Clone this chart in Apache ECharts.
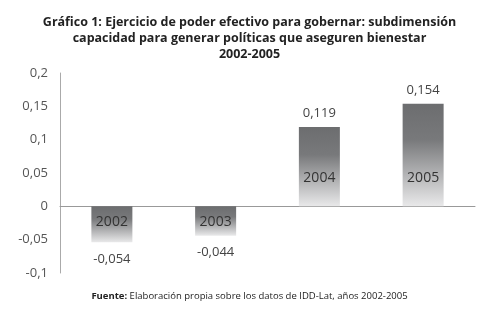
<!DOCTYPE html>
<html>
<head>
<meta charset="utf-8">
<script src="https://cdn.jsdelivr.net/npm/echarts@6/dist/echarts.min.js"></script>
<style>
  html, body { margin: 0; padding: 0; background: #fff; }
  #chart { width: 499px; height: 322px; }
</style>
</head>
<body>
<div id="chart"></div>
<script>
var years = ["2002", "2003", "2004", "2005"];
var values = [-0.054, -0.044, 0.119, 0.154];
var titleLines = [
    "Gráfico 1: Ejercicio de poder efectivo para gobernar: subdimensión",
    "capacidad para generar políticas que aseguren bienestar",
    "2002-2005"
];
var sourceLabel = "Fuente:";
var sourceText = " Elaboración propia sobre los datos de IDD-Lat, años 2002-2005";

function comma(v){
    return String(v).replace(".", ",");
}

var barFill = new echarts.graphic.LinearGradient(0, 0, 0, 1, [
    {offset: 0, color: "#6c6d6f"},
    {offset: 0.35, color: "#78797b"},
    {offset: 1, color: "#e9e9ea"}
]);

var seriesData = [];
for(var i=0;i<values.length;i++){
    var v = values[i];
    seriesData.push({
        value: v,
        label: {
            show: true,
            position: v >= 0 ? "top" : "bottom",
            distance: v >= 0 ? 7 : 10,
            formatter: comma(v),
            color: "#444",
            fontSize: 13,
            fontFamily: "Open Sans"
        }
    });
}

var yearData = [];
for(var j=0;j<values.length;j++){
    var pos = values[j] >= 0;
    yearData.push({
        value: values[j],
        label: {
            show: true,
            position: pos ? "insideBottom" : "insideTop",
            distance: pos ? 21 : 9,
            formatter: years[j],
            color: "#333",
            fontSize: 14,
            fontFamily: "Open Sans"
        }
    });
}

var chart = echarts.init(document.getElementById("chart"));
var option = {
    animation: false,
    backgroundColor: "#fff",
    title: {
        text: titleLines.join("\n"),
        left: "center",
        top: 9,
        textStyle: {
            fontFamily: "Open Sans",
            fontWeight: "bold",
            fontSize: 12.5,
            lineHeight: 16,
            color: "#222"
        }
    },
    graphic: [{
        type: "text",
        left: "center",
        top: 291,
        style: {
            text: "{b|" + sourceLabel + "}{n|" + sourceText + "}",
            rich: {
                b: {fontFamily: "Open Sans", fontWeight: "bold", fontSize: 9.5, fill: "#222"},
                n: {fontFamily: "Open Sans", fontSize: 9.5, fill: "#222"}
            }
        }
    }],
    grid: {left: 60, right: 24, top: 73, bottom: 49},
    xAxis: {
        type: "category",
        data: years,
        axisLine: {onZero: true, lineStyle: {color: "#999", width: 1}},
        axisTick: {show: false},
        axisLabel: {show: false}
    },
    yAxis: {
        type: "value",
        min: -0.1,
        max: 0.2,
        interval: 0.05,
        axisLine: {show: true, lineStyle: {color: "#aaa", width: 1}},
        axisTick: {show: false},
        splitLine: {show: false},
        axisLabel: {
            margin: 12,
            color: "#555",
            fontSize: 13,
            fontFamily: "Open Sans",
            formatter: function(v){ return comma(Math.round(v*100)/100); }
        }
    },
    series: [
        {
            type: "bar",
            barWidth: 41,
            data: seriesData,
            itemStyle: {color: barFill}
        },
        {
            type: "bar",
            barWidth: 41,
            barGap: "-100%",
            data: yearData,
            itemStyle: {color: "transparent"},
            z: 3
        }
    ]
};
chart.setOption(option);
</script>
</body>
</html>
